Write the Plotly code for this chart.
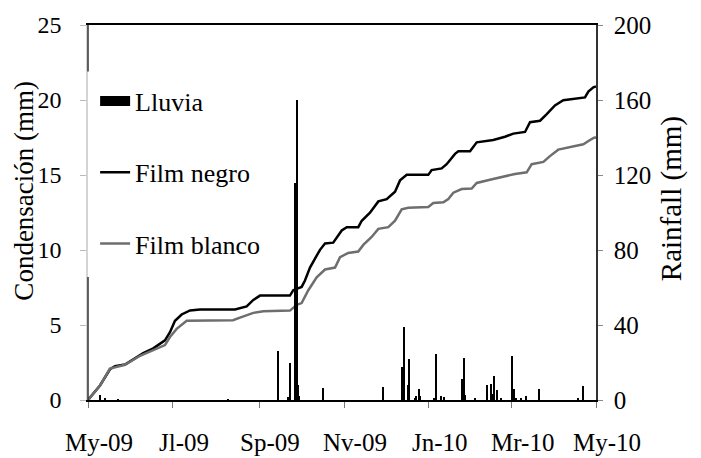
import pandas as pd
import plotly.graph_objects as go

# ---------------- data ----------------
start_date = "2009-05-01"
tick_dates = ["2009-05-01", "2009-07-01", "2009-09-01", "2009-11-01",
              "2010-01-01", "2010-03-01", "2010-05-01"]
tick_labels = ["My-09", "Jl-09", "Sp-09", "Nv-09", "Jn-10", "Mr-10", "My-10"]

# days since 2009-05-01 and daily rainfall (mm)
rain_days = [9, 12, 22, 101, 137, 144, 145, 149, 150, 151, 152, 169, 212, 226, 227,
             230, 231, 235, 236, 238, 239, 249, 250, 254, 256, 269, 270, 271, 278,
             287, 290, 291, 292, 294, 297, 305, 306, 308, 311, 315, 324, 352, 356]
rain_mm = [2.5, 1.0, 0.5, 0.5, 26, 1.5, 20, 116, 160, 7.8, 2, 6.5, 7, 17.7, 38.8,
           7.9, 22, 0.8, 2, 6, 2, 1, 24.6, 2.4, 1.7, 11, 22.4, 2.5, 0.6,
           8, 8.6, 3, 13, 5.5, 1, 23.4, 6, 1, 1, 2.4, 6, 1, 7.4]

# cumulative condensation (mm), black film
negro_days = [0, 8.6, 15.8, 19.4, 26.6, 32.5, 39.7, 46.9, 55.3, 58.9,
              62.5, 67.3, 73.3, 80.5, 105.6, 114.0, 118.8, 123.6, 145.1, 147.5,
              153.5, 155.9, 159.5, 163.1, 166.7, 170.3, 176.2, 182.3, 185.9, 194.2,
              196.7, 202.6, 208.6, 214.6, 220.6, 224.2, 229.0, 244.5, 246.9, 254.1,
              257.7, 263.7, 266.1, 274.5, 279.3, 291.2, 299.6, 305.6, 314.0, 317.6,
              324.8, 329.6, 335.5, 341.5, 348.7, 357.1, 359.5, 363.1, 365]
negro_mm = [0, 0.97, 2.05, 2.26, 2.37, 2.69, 3.12, 3.44, 3.98, 4.52,
            5.28, 5.7, 5.97, 6.03, 6.03, 6.24, 6.67, 6.96, 6.96, 7.32,
            7.54, 7.97, 8.83, 9.43, 10.01, 10.44, 10.49, 11.3, 11.52, 11.52,
            11.95, 12.49, 13.24, 13.39, 13.89, 14.64, 15.01, 15.01, 15.33, 15.44,
            15.72, 16.41, 16.58, 16.58, 17.18, 17.33, 17.55, 17.76, 17.87, 18.52,
            18.62, 19.06, 19.64, 19.98, 20.07, 20.17, 20.56, 20.84, 20.9]

# cumulative condensation (mm), white film
blanco_days = [0, 8.6, 15.8, 26.6, 37.4, 46.9, 55.3, 58.9, 63.7, 70.9,
               104.2, 109.2, 118.8, 126.0, 145.1, 150.0, 153.5, 158.3, 164.3, 170.3,
               177.5, 181.1, 187.0, 194.2, 197.8, 203.8, 208.6, 215.8, 220.6, 225.4,
               230.1, 244.5, 248.1, 255.3, 258.9, 262.5, 268.5, 275.7, 279.3, 288.8,
               297.2, 306.8, 315.2, 318.8, 327.2, 331.9, 337.9, 346.3, 355.9, 360.7,
               363.6, 365]
blanco_mm = [0, 0.95, 2.1, 2.35, 2.95, 3.34, 3.66, 4.2, 4.74, 5.28,
             5.32, 5.49, 5.81, 5.92, 5.96, 6.35, 6.46, 7.32, 8.18, 8.7,
             8.83, 9.52, 9.8, 9.9, 10.34, 10.87, 11.41, 11.52, 11.95, 12.71,
             12.81, 12.87, 13.13, 13.18, 13.4, 13.82, 14.06, 14.1, 14.47, 14.68,
             14.86, 15.07, 15.18, 15.72, 15.87, 16.26, 16.69, 16.86, 17.05, 17.33,
             17.49, 17.5]

left_title = "Condensación (mm)"
right_title = "Rainfall (mm)"

# ---------------- build ----------------
base = pd.Timestamp(start_date)
def to_dates(days):
    return base + pd.to_timedelta(days, unit="D")

FONT = "Liberation Serif"
DAY_MS = 86400000

fig = go.Figure()

fig.add_trace(go.Bar(
    x=to_dates(rain_days), y=rain_mm, yaxis="y2",
    width=DAY_MS * 1.0, marker=dict(color="black", line=dict(width=0)),
    showlegend=False, name="Lluvia",
))
# legend entry for rain (wide black swatch)
fig.add_trace(go.Scatter(
    x=[None], y=[None], mode="lines", yaxis="y2",
    line=dict(color="black", width=10), name="Lluvia", legendgroup="a",
))
fig.add_trace(go.Scatter(
    x=to_dates(negro_days), y=negro_mm, mode="lines", name="Film negro",
    line=dict(color="black", width=2.5), legendgroup="b",
))
fig.add_trace(go.Scatter(
    x=to_dates(blanco_days), y=blanco_mm, mode="lines", name="Film blanco",
    line=dict(color="#6e6e6e", width=2.5), legendgroup="c",
))

fig.update_layout(
    width=701, height=458,
    margin=dict(l=88, r=105, t=13, b=58),
    paper_bgcolor="white", plot_bgcolor="white",
    font=dict(family=FONT, color="black", size=24),
    showlegend=True,
    legend=dict(
        x=0.014, y=0.86, xanchor="left", yanchor="top",
        bgcolor="rgba(0,0,0,0)", font=dict(size=26, family=FONT),
        traceorder="grouped", tracegroupgap=34.5, itemwidth=30,
    ),
    bargap=0,
    xaxis=dict(
        type="date", range=[tick_dates[0], tick_dates[-1]],
        tickmode="array", tickvals=tick_dates, ticktext=tick_labels,
        showticklabels=False,
        showgrid=False, zeroline=False,
        showline=True, linecolor="black", linewidth=2, mirror=True,
        ticks="outside", ticklen=6, tickcolor="#777", tickwidth=1,
    ),
    yaxis=dict(
        range=[0, 25], tickvals=[0, 5, 10, 15, 20, 25],
        showgrid=False, zeroline=False,
        showline=True, linecolor="#d4d4d4", linewidth=1.5,
        ticks="outside", ticklen=6, tickcolor="#bbbbbb", tickwidth=1,
        tickfont=dict(size=24, family=FONT), ticklabelstandoff=14,
    ),
    yaxis2=dict(
        range=[0, 200], tickvals=[0, 40, 80, 120, 160, 200],
        overlaying="y", side="right",
        showgrid=False, zeroline=False,
        showline=True, linecolor="#333", linewidth=1.5,
        ticks="outside", ticklen=5, tickcolor="#888", tickwidth=1,
        tickfont=dict(size=25, family=FONT), ticklabelstandoff=6,
    ),
)

# x tick labels (slightly offset to the right of their ticks, as in the original)
for d, lab in zip(tick_dates, tick_labels):
    fig.add_annotation(x=d, y=0, xref="x", yref="paper", text=lab, showarrow=False,
                       xanchor="center", yanchor="middle", xshift=11, yshift=-42,
                       font=dict(size=25, family=FONT, color="black"))

# axis titles
fig.add_annotation(x=-0.125, y=0.557, xref="paper", yref="paper", text=left_title,
                   textangle=-90, showarrow=False, xanchor="center", yanchor="middle",
                   font=dict(size=27, family=FONT, color="black"))
fig.add_annotation(x=1.148, y=0.536, xref="paper", yref="paper", text=right_title,
                   textangle=-90, showarrow=False, xanchor="center", yanchor="middle",
                   font=dict(size=29, family=FONT, color="black"))

# dark segments of the left axis line (the middle part is faint)
for y0, y1 in [(21.9, 25), (0, 8.2)]:
    fig.add_shape(type="line", xref="paper", yref="y", x0=0, x1=0, y0=y0, y1=y1,
                  line=dict(color="#333", width=1.5), layer="above")

fig.write_html("out.html")
